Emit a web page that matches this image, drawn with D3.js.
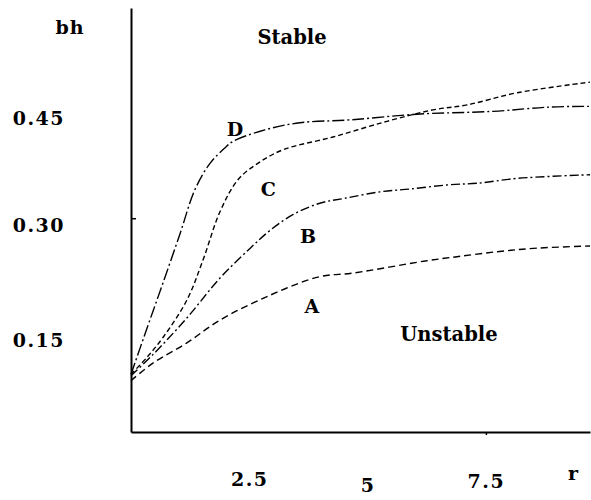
<!DOCTYPE html>
<html>
<head>
<meta charset="utf-8">
<script src="https://cdn.jsdelivr.net/npm/d3@7"></script>
<style>
  html, body { margin: 0; padding: 0; background: #fff; }
  svg text { font-family: "DejaVu Serif", serif; font-weight: bold; fill: #000; }
</style>
</head>
<body>
<div id="chart"></div>
<script>
// curve values: r on x, bh on y
const seriesNames = ['A', 'B', 'C', 'D'];
const rA = [0, 0.47, 1.18, 1.88, 2.94, 3.99, 4.69, 6.22, 6.89, 7.74, 8.58, 9.7];
const bhA = [0.072, 0.097, 0.125, 0.157, 0.192, 0.218, 0.223, 0.240, 0.246, 0.253, 0.258, 0.261];
const rB = [0, 0.47, 1.18, 1.88, 2.52, 2.94, 3.42, 3.99, 4.52, 5.26, 5.9, 6.74, 7.31, 8.18, 9.7];
const bhB = [0.079, 0.109, 0.160, 0.216, 0.258, 0.283, 0.305, 0.321, 0.328, 0.337, 0.341, 0.347, 0.349, 0.356, 0.361];
const rC = [0, 0.34, 0.68, 1.18, 1.52, 1.88, 2.26, 2.68, 3.21, 4.27, 5.41, 6.38, 7.1, 8.16, 9.7];
const bhC = [0.081, 0.105, 0.133, 0.185, 0.241, 0.309, 0.354, 0.377, 0.396, 0.414, 0.436, 0.452, 0.459, 0.476, 0.491];
const rD = [0, 0.34, 0.68, 1.04, 1.35, 1.67, 1.99, 2.16, 2.83, 3.57, 4.63, 6.04, 7.65, 8.85, 9.7];
const bhD = [0.081, 0.146, 0.210, 0.279, 0.340, 0.377, 0.399, 0.408, 0.424, 0.434, 0.438, 0.446, 0.450, 0.456, 0.457];

const yTicks = [0.15, 0.30, 0.45];
const yTickLabels = ['0.15', '0.30', '0.45'];
const xTicks = [2.5, 5, 7.5];
const xTickLabels = ['2.5', '5', '7.5'];

const width = 591, height = 500;
const x = d3.scaleLinear().domain([0, 9.7]).range([131, 590]);
const y = d3.scaleLinear().domain([0, 0.595]).range([432, 8]);

const svg = d3.select('#chart').append('svg')
  .attr('width', width)
  .attr('height', height);

const series = [
  { name: 'A', r: rA, bh: bhA, dash: '7,4', lx: 3.82, ly: 0.177 },
  { name: 'B', r: rB, bh: bhB, dash: '9,3,2,3', lx: 3.74, ly: 0.275 },
  { name: 'C', r: rC, bh: bhC, dash: '5,3', lx: 2.9, ly: 0.340 },
  { name: 'D', r: rD, bh: bhD, dash: '12,3,2,3', lx: 2.2, ly: 0.425 }
];

const line = d3.line()
  .x(d => x(d[0]))
  .y(d => y(d[1]))
  .curve(d3.curveCatmullRom.alpha(0.5));

svg.selectAll('.curve')
  .data(series)
  .enter()
  .append('path')
  .attr('class', 'curve')
  .attr('d', s => line(d3.zip(s.r, s.bh)))
  .attr('fill', 'none')
  .attr('stroke', '#000')
  .attr('stroke-width', 1.4)
  .attr('stroke-dasharray', s => s.dash);

// curve letters
svg.selectAll('.clabel')
  .data(series)
  .enter()
  .append('text')
  .attr('class', 'clabel')
  .attr('x', s => x(s.lx))
  .attr('y', s => y(s.ly))
  .attr('text-anchor', 'middle')
  .attr('dy', '0.35em')
  .style('font-size', '19px')
  .text(s => s.name);

// y axis
const yAxis = d3.axisLeft(y)
  .tickValues(yTicks)
  .tickFormat((d, i) => yTickLabels[i])
  .tickSizeInner(-5)
  .tickSizeOuter(0)
  .tickPadding(66);

const yNudge = [15, 7, 7];
const gy = svg.append('g')
  .attr('transform', 'translate(131,0)')
  .call(yAxis);
gy.select('.domain').attr('stroke', '#000').attr('stroke-width', 2);
gy.selectAll('.tick line').attr('stroke', '#000').attr('stroke-width', 1.5)
  .attr('x2', d => d === 0.30 ? 5 : 0);
gy.selectAll('.tick text')
  .attr('font-family', null)
  .attr('font-size', null)
  .style('font-size', '19px')
  .style('letter-spacing', '1.5px')
  .attr('dy', (d, i) => (yNudge[i] + 6) + 'px');

// x axis
const xAxis = d3.axisBottom(x)
  .tickValues(xTicks)
  .tickFormat((d, i) => xTickLabels[i])
  .tickSizeInner(3)
  .tickSizeOuter(0)
  .tickPadding(49);

const xNudge = [0, 6, 2];
const gx = svg.append('g')
  .attr('transform', 'translate(0,432)')
  .call(xAxis);
gx.select('.domain').attr('stroke', '#000').attr('stroke-width', 2);
gx.selectAll('.tick line').attr('stroke', '#000').attr('stroke-width', 1.5)
  .attr('y2', d => d === 7.5 ? 3 : 0);
gx.selectAll('.tick text')
  .attr('font-family', null)
  .attr('font-size', null)
  .style('font-size', '19px')
  .style('letter-spacing', '1.5px')
  .attr('dy', (d, i) => (xNudge[i] + 2) + 'px');

// axis titles
svg.append('text').attr('x', 70).attr('y', 34).attr('text-anchor', 'middle')
  .style('font-size', '19px').style('letter-spacing', '1px').text('bh');
svg.append('text').attr('x', 573).attr('y', 480).attr('text-anchor', 'middle')
  .style('font-size', '19px').text('r');

// region labels
svg.append('text').attr('x', 292).attr('y', 44).attr('text-anchor', 'middle')
  .style('font-size', '19.5px').text('Stable');
svg.append('text').attr('x', 449).attr('y', 341).attr('text-anchor', 'middle')
  .style('font-size', '19.5px').text('Unstable');
</script>
</body>
</html>
